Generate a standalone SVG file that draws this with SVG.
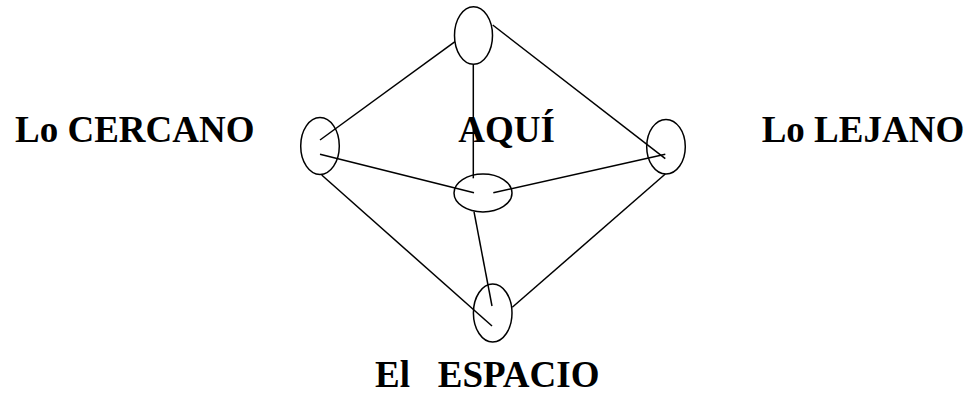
<svg xmlns="http://www.w3.org/2000/svg" width="967" height="394" viewBox="0 0 967 394">
<style>
.n{fill:none;stroke:#000;stroke-width:1.5}
.c line{stroke:#000;stroke-width:1.5}
.t{font-family:"Liberation Serif","Times New Roman",serif;font-weight:700;font-size:37px;fill:#000;white-space:pre}
</style>
<rect width="967" height="394" fill="#fff"/>
<g id="connectors" class="c">
<line x1="455" y1="41.7" x2="320" y2="140"/>
<line x1="492.7" y1="25" x2="665.3" y2="158.7"/>
<line x1="473.3" y1="65" x2="473.3" y2="178.3"/>
<line x1="320" y1="154.3" x2="474" y2="192.7"/>
<line x1="493.3" y1="192.7" x2="665.3" y2="154.3"/>
<line x1="321.7" y1="175" x2="492" y2="326"/>
<line x1="474" y1="211.7" x2="492" y2="306"/>
<line x1="665.3" y1="174" x2="512.3" y2="307.3"/>
</g>
<g id="top"><ellipse class="n" cx="473.5" cy="35.5" rx="19" ry="28.7"/></g>
<g id="left"><ellipse class="n" cx="320" cy="146" rx="19.3" ry="28.5"/></g>
<g id="right"><ellipse class="n" cx="666" cy="146.7" rx="19.3" ry="27.3"/></g>
<g id="center"><ellipse class="n" cx="483" cy="193" rx="29" ry="19"/></g>
<g id="bottom"><ellipse class="n" cx="492.7" cy="313" rx="19.3" ry="29"/></g>
<g id="labels">
<text class="t" x="15" y="141.7">Lo CERCANO</text>
<text class="t" x="761.7" y="141.7">Lo LEJANO</text>
<text class="t" x="458.3" y="141.7">AQUÍ</text>
<text class="t" x="375" y="386.5" xml:space="preserve">El   ESPACIO</text>
</g>
</svg>
